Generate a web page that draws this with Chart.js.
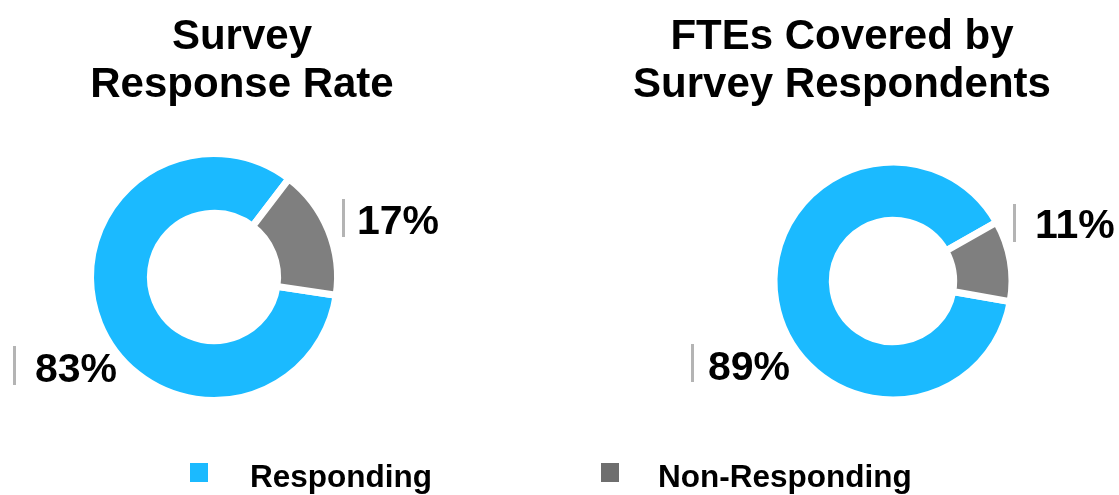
<!DOCTYPE html>
<html>
<head>
<meta charset="utf-8">
<script src="https://cdn.jsdelivr.net/npm/chart.js@4.4.1/dist/chart.umd.min.js"></script>
<style>
  html, body { margin: 0; padding: 0; background: #ffffff; }
  #wrap { position: relative; width: 1119px; height: 495px; overflow: hidden;
          font-family: "Liberation Sans", Arial, Helvetica, sans-serif; }
  #wrap canvas { position: absolute; left: 0; top: 0; }
  .title { position: absolute; top: 11px; width: 420px; font-weight: bold; font-size: 42px;
           line-height: 48px; text-align: center; color: #000; white-space: nowrap; }
  .lg-box { position: absolute; top: 463px; width: 18px; height: 19px; }
  .lg-text { position: absolute; top: 458px; font-weight: bold; font-size: 31.5px; line-height: 36px;
             color: #000; white-space: nowrap; }
</style>
</head>
<body>
<div id="wrap">
  <canvas id="c1" width="1119" height="495"></canvas>
  <canvas id="c2" width="1119" height="495"></canvas>
</div>
<script>
// ---- data ----
const categories = ['Responding', 'Non-Responding'];
const responseRate = [83, 17];
const fteCoverage = [89, 11];
const chartTitles = [['Survey', 'Response Rate'], ['FTEs Covered by', 'Survey Respondents']];
const sliceColors = ['#1BBAFF', '#7F7F7F'];
const legendColors = ['#1BBAFF', '#6E6E6E'];

// ---- layout (not data) ----
const layouts = [
  { id: 'c1', data: responseRate, rotation: 98.5, radius: 123, cutout: '51.5%',
    padding: { left: 94, right: 1119 - 334, top: 157, bottom: 495 - 397 },
    titleLeft: 32,
    labels: [ { textX: 35, y: 382, barX: 13, barTop: 346, barBottom: 385 },
              { textX: 357, y: 234, barX: 342, barTop: 199, barBottom: 237 } ] },
  { id: 'c2', data: fteCoverage, rotation: 100, radius: 118.5, cutout: '51%',
    padding: { left: 777.5, right: 1119 - 1008.5, top: 165.5, bottom: 495 - 396.5 },
    titleLeft: 632,
    labels: [ { textX: 708, y: 380, barX: 691, barTop: 344, barBottom: 382 },
              { textX: 1035, y: 238, barX: 1013, barTop: 204, barBottom: 242 } ] }
];

const valueLabelPlugin = {
  id: 'valueLabels',
  afterDatasetsDraw(chart, args, opts) {
    const ctx = chart.ctx;
    const values = chart.data.datasets[0].data;
    (opts.items || []).forEach((it, i) => {
      ctx.save();
      ctx.fillStyle = '#B4B4B4';
      ctx.fillRect(it.barX, it.barTop, 3, it.barBottom - it.barTop);
      ctx.font = 'bold 41px "Liberation Sans", Arial, sans-serif';
      ctx.fillStyle = '#000000';
      ctx.textBaseline = 'alphabetic';
      ctx.textAlign = 'left';
      ctx.fillText(values[i] + '%', it.textX, it.y);
      ctx.restore();
    });
  }
};

const wrap = document.getElementById('wrap');

layouts.forEach((L, k) => {
  const t = document.createElement('div');
  t.className = 'title';
  t.style.left = L.titleLeft + 'px';
  t.innerHTML = chartTitles[k].join('<br>');
  wrap.appendChild(t);

  new Chart(document.getElementById(L.id), {
    type: 'doughnut',
    data: {
      labels: categories,
      datasets: [{
        data: L.data,
        backgroundColor: sliceColors,
        borderColor: '#ffffff',
        borderWidth: 7,
        borderAlign: 'center',
        hoverOffset: 0
      }]
    },
    options: {
      responsive: false,
      animation: false,
      rotation: L.rotation,
      radius: L.radius + 0.5,
      cutout: L.cutout,
      layout: { padding: L.padding },
      events: [],
      plugins: {
        legend: { display: false },
        title: { display: false },
        tooltip: { enabled: false },
        valueLabels: { items: L.labels }
      }
    },
    plugins: [valueLabelPlugin]
  });
});

// legend built from categories / colours
const legendPos = [ { box: 190, text: 250 }, { box: 601, text: 658 } ];
categories.forEach((name, i) => {
  const b = document.createElement('div');
  b.className = 'lg-box';
  b.style.left = legendPos[i].box + 'px';
  b.style.background = legendColors[i];
  wrap.appendChild(b);
  const s = document.createElement('div');
  s.className = 'lg-text';
  s.style.left = legendPos[i].text + 'px';
  s.textContent = name;
  wrap.appendChild(s);
});
</script>
</body>
</html>
